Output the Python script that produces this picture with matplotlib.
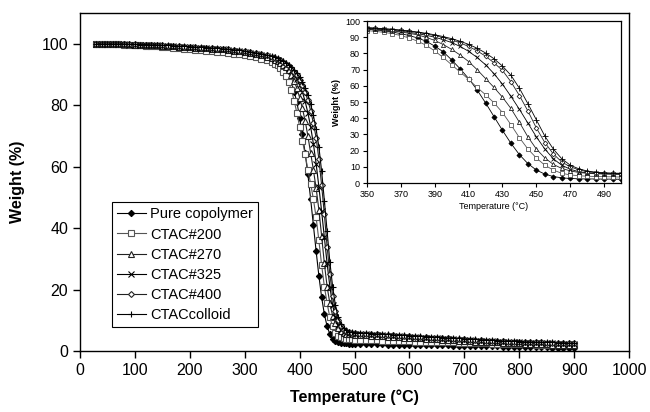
import numpy as np
import matplotlib
matplotlib.use("Agg")
from matplotlib import pyplot as plt

plt.rcParams["font.family"] = ["Liberation Sans", "DejaVu Sans"]

# temperature grid (°C): coarse plateau, fine steps through the decomposition, coarse residue
temp_lo = [30, 40, 50, 60, 70, 80, 90, 100, 110, 120, 130, 140, 150, 160, 170, 180,
           190, 200, 210, 220, 230, 240, 250, 260, 270, 280, 290, 300, 310, 320, 330, 340]
temp_mid = [350, 355, 360, 365, 370, 375, 380, 385, 390, 395, 400, 405, 410, 415, 420, 425,
            430, 435, 440, 445, 450, 455, 460, 465, 470, 475, 480, 485, 490, 495, 500]
temp_hi = [510, 520, 530, 540, 550, 560, 570, 580, 590, 600, 610, 620, 630, 640, 650, 660,
           670, 680, 690, 700, 710, 720, 730, 740, 750, 760, 770, 780, 790, 800, 810, 820,
           830, 840, 850, 860, 870, 880, 890, 900]
temperature = np.array(temp_lo + temp_mid + temp_hi)

# weight (%) for each sample
pure = [100.0, 100.0, 100.0, 100.0, 99.9, 99.9, 99.8, 99.8, 99.7, 99.6,
        99.5, 99.4, 99.3, 99.2, 99.1, 99.0, 98.9, 98.8, 98.7, 98.6,
        98.5, 98.4, 98.3, 98.1, 97.9, 97.7, 97.5, 97.2, 96.9, 96.5,
        96.0, 95.5,
        95.0, 94.5, 94.0, 93.2, 92.2, 91.0, 89.5, 87.5, 84.5, 81.0,
        76.0, 70.5, 64.5, 57.5, 49.5, 41.0, 32.5, 24.5, 17.5, 12.0,
        8.0, 5.5, 4.0, 3.2, 2.8, 2.6, 2.5, 2.5, 2.4, 2.4, 2.3,
        2.3, 2.3, 2.2, 2.2, 2.2, 2.1, 2.1, 2.1, 2.0, 2.0,
        2.0, 1.9, 1.9, 1.9, 1.8, 1.8, 1.8, 1.7, 1.7, 1.7,
        1.6, 1.6, 1.6, 1.5, 1.5, 1.5, 1.4, 1.4, 1.4, 1.3,
        1.3, 1.3, 1.2, 1.2, 1.2, 1.1, 1.1, 1.1, 1.0, 1.0]

ctac200 = [100.0, 100.0, 100.0, 99.9, 99.9, 99.8, 99.7, 99.6, 99.5, 99.4,
           99.3, 99.2, 99.0, 98.9, 98.7, 98.6, 98.4, 98.3, 98.1, 98.0,
           97.8, 97.7, 97.5, 97.3, 97.1, 96.8, 96.6, 96.3, 96.0, 95.6,
           95.2, 94.7,
           94.1, 93.6, 93.0, 92.2, 91.0, 89.5, 87.5, 85.0, 81.5, 77.5,
           73.0, 68.5, 64.0, 59.0, 54.5, 49.5, 43.5, 36.0, 28.0, 21.0,
           15.5, 11.0, 8.0, 6.0, 5.0, 4.5, 4.2, 4.0, 3.9, 3.8, 3.7,
           3.6, 3.6, 3.5, 3.5, 3.4, 3.4, 3.3, 3.3, 3.2, 3.2,
           3.1, 3.1, 3.0, 3.0, 2.9, 2.9, 2.8, 2.8, 2.7, 2.7,
           2.6, 2.6, 2.5, 2.5, 2.4, 2.4, 2.3, 2.3, 2.3, 2.2,
           2.2, 2.2, 2.1, 2.1, 2.1, 2.0, 2.0, 2.0, 1.9, 1.9]

ctac270 = [100.0, 100.0, 100.0, 100.0, 100.0, 99.9, 99.9, 99.8, 99.8, 99.7,
           99.6, 99.5, 99.4, 99.3, 99.2, 99.1, 99.0, 98.9, 98.8, 98.7,
           98.6, 98.5, 98.4, 98.2, 98.0, 97.8, 97.6, 97.3, 97.0, 96.7,
           96.3, 95.8,
           95.3, 94.9, 94.4, 93.9, 93.2, 92.4, 91.4, 89.9, 88.0, 85.5,
           82.5, 79.0, 75.0, 70.0, 64.5, 59.0, 53.0, 46.0, 37.5, 28.5,
           21.0, 15.5, 11.5, 9.0, 7.5, 6.5, 6.0, 5.7, 5.5, 5.4, 5.3,
           5.2, 5.1, 5.0, 4.9, 4.8, 4.7, 4.6, 4.5, 4.4, 4.3,
           4.2, 4.1, 4.0, 3.9, 3.8, 3.7, 3.6, 3.5, 3.4, 3.3,
           3.2, 3.1, 3.0, 2.9, 2.9, 2.8, 2.7, 2.6, 2.6, 2.5,
           2.4, 2.4, 2.3, 2.2, 2.2, 2.1, 2.1, 2.0, 2.0, 1.9]

ctac325 = [100.0, 100.0, 100.0, 100.0, 99.9, 99.9, 99.8, 99.8, 99.7, 99.7,
           99.6, 99.5, 99.4, 99.3, 99.2, 99.1, 99.0, 98.9, 98.8, 98.7,
           98.6, 98.5, 98.3, 98.2, 98.0, 97.8, 97.6, 97.4, 97.1, 96.8,
           96.5, 96.1,
           95.6, 95.2, 94.8, 94.3, 93.7, 93.0, 92.2, 91.2, 90.0, 88.5,
           86.7, 84.3, 81.3, 77.5, 73.0, 67.5, 61.0, 53.5, 45.5, 37.0,
           28.5, 21.0, 15.0, 11.0, 8.5, 7.0, 6.3, 6.0, 5.8, 5.7, 5.6,
           5.5, 5.4, 5.3, 5.2, 5.1, 5.0, 4.9, 4.8, 4.7, 4.6,
           4.5, 4.4, 4.3, 4.2, 4.1, 4.0, 3.9, 3.8, 3.7, 3.6,
           3.5, 3.4, 3.3, 3.2, 3.2, 3.1, 3.0, 2.9, 2.9, 2.8,
           2.7, 2.7, 2.6, 2.6, 2.5, 2.5, 2.4, 2.4, 2.3, 2.3]

ctac400 = [100.0, 100.0, 100.0, 100.0, 100.0, 99.9, 99.9, 99.9, 99.8, 99.8,
           99.7, 99.6, 99.5, 99.4, 99.3, 99.2, 99.1, 99.0, 98.9, 98.8,
           98.7, 98.6, 98.5, 98.3, 98.2, 98.0, 97.8, 97.6, 97.3, 97.0,
           96.7, 96.3,
           95.8, 95.5, 95.1, 94.7, 94.2, 93.6, 92.9, 92.0, 91.0, 89.8,
           88.3, 86.5, 84.3, 81.6, 78.3, 74.2, 69.5, 62.5, 54.0, 44.5,
           34.0, 25.0, 18.0, 13.0, 10.0, 8.2, 7.0, 6.4, 6.1, 5.9, 5.8,
           5.7, 5.6, 5.5, 5.4, 5.3, 5.2, 5.1, 5.0, 4.9, 4.8,
           4.7, 4.6, 4.5, 4.4, 4.3, 4.2, 4.1, 4.0, 3.9, 3.8,
           3.7, 3.6, 3.5, 3.4, 3.4, 3.3, 3.2, 3.1, 3.0, 3.0,
           2.9, 2.9, 2.8, 2.8, 2.7, 2.7, 2.6, 2.6, 2.5, 2.5]

colloid = [100.0, 100.0, 100.0, 100.0, 100.0, 100.0, 99.9, 99.9, 99.8, 99.8,
           99.7, 99.7, 99.6, 99.5, 99.4, 99.3, 99.2, 99.1, 99.0, 98.9,
           98.8, 98.7, 98.6, 98.4, 98.3, 98.1, 97.9, 97.7, 97.4, 97.1,
           96.8, 96.4,
           95.9, 95.6, 95.3, 94.9, 94.4, 93.9, 93.2, 92.4, 91.5, 90.4,
           89.1, 87.5, 85.6, 83.2, 80.3, 76.7, 72.2, 66.5, 58.5, 49.0,
           39.0, 29.0, 21.0, 15.0, 11.0, 8.8, 7.4, 6.7, 6.3, 6.1, 6.0,
           5.9, 5.8, 5.7, 5.6, 5.5, 5.4, 5.3, 5.2, 5.1, 5.0,
           4.9, 4.8, 4.7, 4.6, 4.5, 4.4, 4.3, 4.2, 4.1, 4.0,
           3.9, 3.8, 3.7, 3.6, 3.5, 3.4, 3.3, 3.2, 3.2, 3.1,
           3.0, 3.0, 2.9, 2.9, 2.8, 2.8, 2.7, 2.7, 2.6, 2.6]

labels = ["Pure copolymer", "CTAC#200", "CTAC#270", "CTAC#325", "CTAC#400", "CTACcolloid"]
series = [pure, ctac200, ctac270, ctac325, ctac400, colloid]

# marker style per sample: (marker, face colour, line colour)
styles = [("D", "black", "black"),
          ("s", "white", "#555555"),
          ("^", "white", "#222222"),
          ("x", "black", "black"),
          ("D", "white", "#222222"),
          ("+", "black", "black")]
main_ms = [3.2, 3.8, 3.8, 4.0, 3.0, 5.0]

fig = plt.figure(figsize=(6.5, 4.12), dpi=100)
ax = fig.add_axes([0.123, 0.148, 0.845, 0.820])

for y, lab, (mk, fc, lc), ms in zip(series, labels, styles, main_ms):
    ax.plot(temperature, y, color=lc, marker=mk, ms=ms, mfc=fc, mec=lc,
            mew=0.8, lw=0.8, label=lab)

ax.set_xlim(0, 1000)
ax.set_ylim(0, 110)
ax.set_xticks(np.arange(0, 1001, 100))
ax.set_yticks(np.arange(0, 101, 20))
ax.tick_params(direction="out", length=5, width=1, labelsize=11.5, top=False, right=False)
ax.set_xlabel("Temperature (°C)", fontsize=11.5, fontweight="bold", labelpad=8)
ax.set_ylabel("Weight (%)", fontsize=11.5, fontweight="bold", labelpad=12)
for s in ax.spines.values():
    s.set_linewidth(1.0)

leg = ax.legend(loc="upper left", bbox_to_anchor=(0.058, 0.44), fontsize=10.5,
                frameon=True, fancybox=False, edgecolor="black", framealpha=1,
                borderpad=0.35, labelspacing=0.42, handlelength=2.0,
                handletextpad=0.3, borderaxespad=0)
leg.get_frame().set_linewidth(0.8)

# inset: close-up of the decomposition step
axin = fig.add_axes([0.5646, 0.5558, 0.3908, 0.3932])
inset_ms = [2.6, 3.0, 3.0, 3.2, 2.4, 4.0]
for y, (mk, fc, lc), ms in zip(series, styles, inset_ms):
    axin.plot(temperature, y, color=lc, marker=mk, ms=ms, mfc=fc, mec=lc,
              mew=0.6, lw=0.6)
axin.set_xlim(350, 500)
axin.set_ylim(0, 100)
axin.set_xticks(np.arange(350, 491, 20))
axin.set_yticks(np.arange(0, 101, 10))
axin.tick_params(direction="out", length=3, width=0.8, labelsize=6.5, pad=2)
axin.set_xlabel("Temperature (°C)", fontsize=6.5, labelpad=2)
axin.set_ylabel("Weight (%)", fontsize=6.5, fontweight="bold", labelpad=3)
for s in axin.spines.values():
    s.set_linewidth(0.9)

fig.savefig("out.png", dpi=100)
